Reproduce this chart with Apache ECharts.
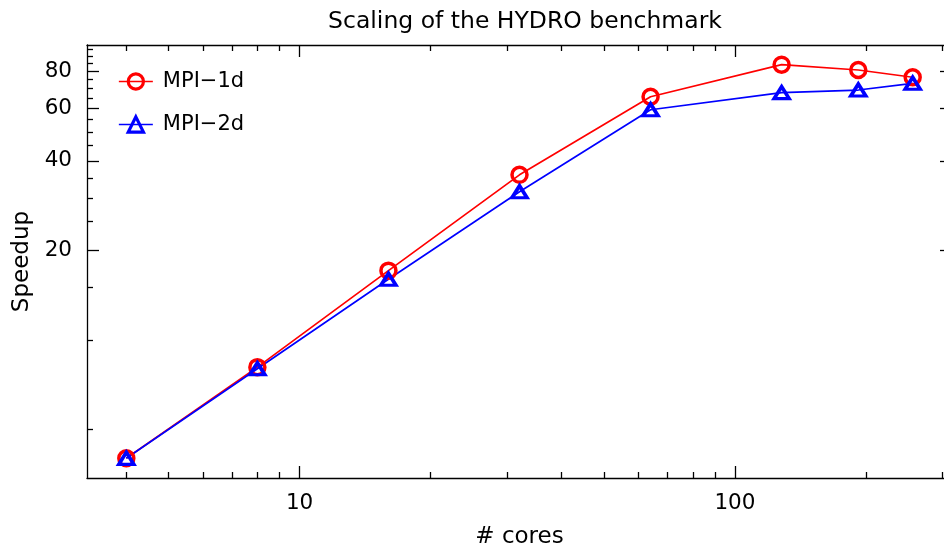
<!DOCTYPE html>
<html>
<head>
<meta charset="utf-8">
<script src="https://cdn.jsdelivr.net/npm/echarts@6/dist/echarts.min.js"></script>
<style>
  html, body { margin: 0; padding: 0; background: #fff; }
  #main { width: 944px; height: 552px; }
</style>
</head>
<body>
<div id="main"></div>
<script>
// speedup vs number of cores
const cores = [4, 8, 16, 32, 64, 128, 192, 256];
const mpi1d = [4.0, 8.1, 17.1, 35.9, 65.7, 84.2, 80.8, 76.4];
const mpi2d = [4.0, 8.0, 16.0, 31.5, 59.4, 67.8, 69.2, 72.9];

const xMajorTicks = [10, 100];
const xMinorTicks = [4, 5, 6, 7, 8, 9, 20, 30, 40, 50, 60, 70, 80, 90, 200, 300];
const yMajorTicks = [20, 40, 60, 80];
const yMinorTicks = [5, 10, 15, 25, 30, 35, 45, 50, 55, 65, 70, 75, 85, 90, 95];

const FONT = "DejaVu Sans";
const lg = Math.log10;

// axes are plain value axes in log10 space; 5% padding like matplotlib autoscale
function logRange(vals) {
  const lo = lg(Math.min(...vals));
  const hi = lg(Math.max(...vals));
  const pad = (hi - lo) * 0.05;
  return [lo - pad, hi + pad];
}
const xr = logRange(cores);
const yr = logRange(mpi1d.concat(mpi2d));

function tickAxis(pos, range, ticks, len, extra) {
  return Object.assign({
    type: "value",
    position: pos,
    min: range[0],
    max: range[1],
    axisLine: { show: false },
    splitLine: { show: false },
    axisTick: {
      show: true, inside: true, length: len,
      customValues: ticks.map(lg),
      lineStyle: { color: "#000", width: 1.3 }
    },
    axisLabel: { show: false }
  }, extra || {});
}

const fmt = (v) => String(Math.round(Math.pow(10, v)));

const myChart = echarts.init(document.getElementById("main"));

const option = {
  backgroundColor: "#fff",
  animation: false,
  title: {
    text: "Scaling of the HYDRO benchmark",
    left: 520,
    top: 5,
    textAlign: "center",
    textStyle: { fontFamily: FONT, fontSize: 23.5, fontWeight: "normal", color: "#000" }
  },
  legend: {
    orient: "vertical",
    left: 113,
    top: 66,
    itemWidth: 34,
    itemHeight: 19,
    itemGap: 22,
    itemStyle: { borderWidth: 3.2 },
    lineStyle: { width: 1.7 },
    textStyle: { fontFamily: FONT, fontSize: 21, color: "#000", padding: [0, 0, 0, 5] },
    data: ["MPI\u22121d", "MPI\u22122d"]
  },
  grid: {
    left: 87,
    right: -8,
    top: 45,
    bottom: 74,
    containLabel: false,
    outerBoundsMode: "none"
  },
  xAxis: [
    tickAxis("bottom", xr, xMajorTicks, 12, {
      axisLine: { show: true, lineStyle: { color: "#000", width: 1.3 } },
      axisLabel: {
        show: true, customValues: xMajorTicks.map(lg), formatter: fmt,
        margin: 14, fontFamily: FONT, fontSize: 21.5, color: "#000"
      },
      name: "# cores",
      nameLocation: "middle",
      nameGap: 48,
      nameTextStyle: { fontFamily: FONT, fontSize: 23, color: "#000" }
    }),
    tickAxis("bottom", xr, xMinorTicks, 6),
    tickAxis("top", xr, xMajorTicks, 12, {
      axisLine: { show: true, lineStyle: { color: "#000", width: 1.3 } }
    }),
    tickAxis("top", xr, xMinorTicks, 6)
  ],
  yAxis: [
    tickAxis("left", yr, yMajorTicks, 12, {
      axisLine: { show: true, lineStyle: { color: "#000", width: 1.3 } },
      axisLabel: {
        show: true, customValues: yMajorTicks.map(lg), formatter: fmt,
        margin: 15, fontFamily: FONT, fontSize: 21.5, color: "#000"
      },
      name: "Speedup",
      nameLocation: "middle",
      nameGap: 53,
      nameTextStyle: { fontFamily: FONT, fontSize: 23, color: "#000" }
    }),
    tickAxis("left", yr, yMinorTicks, 6),
    tickAxis("right", yr, yMajorTicks, 12, {
      axisLine: { show: true, lineStyle: { color: "#000", width: 1.3 } }
    }),
    tickAxis("right", yr, yMinorTicks, 6)
  ],
  series: [
    {
      name: "MPI\u22121d",
      type: "line",
      xAxisIndex: 0,
      yAxisIndex: 0,
      data: cores.map((c, i) => [lg(c), lg(mpi1d[i])]),
      symbol: "circle",
      symbolSize: 15,
      color: "#ff0000",
      lineStyle: { color: "#ff0000", width: 1.7 },
      itemStyle: { color: "rgba(255,255,255,0)", borderColor: "#ff0000", borderWidth: 3.5 }
    },
    {
      name: "MPI\u22122d",
      type: "line",
      xAxisIndex: 0,
      yAxisIndex: 0,
      data: cores.map((c, i) => [lg(c), lg(mpi2d[i])]),
      symbol: "triangle",
      symbolSize: [15, 12],
      color: "#0000ff",
      lineStyle: { color: "#0000ff", width: 1.7 },
      itemStyle: { color: "rgba(255,255,255,0)", borderColor: "#0000ff", borderWidth: 3.5 }
    }
  ]
};

option && myChart.setOption(option);
</script>
</body>
</html>
